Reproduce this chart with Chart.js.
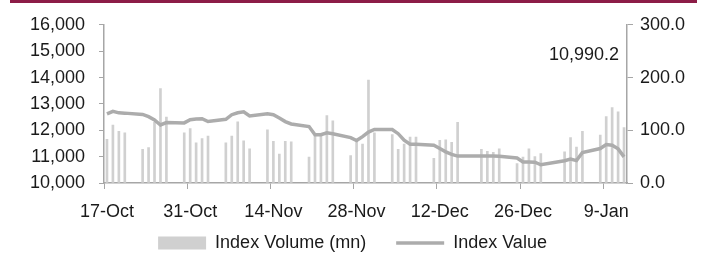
<!DOCTYPE html>
<html>
<head>
<meta charset="utf-8">
<script src="https://cdn.jsdelivr.net/npm/chart.js@4.4.0/dist/chart.umd.min.js"></script>
<style>
  html, body { margin: 0; padding: 0; background: #fff; }
  #wrap { width: 705px; height: 253px; position: relative; }
</style>
</head>
<body>
<div id="wrap"><canvas id="indexChart"></canvas></div>
<script>
// trading days Oct 17 .. Jan 12, one slot per calendar day (null = no session)
const startDate = "2022-10-17";
const dayCount = 88;
const tickEvery = 14;

// Index Volume (mn), right axis
const volume = [
    83, 110, 98, 95, null, null, 64, 67, 115, 179,
    125, null, null, 95, 103, 76, 84, 89, null, null,
    76, 89, 116, 80, 65, null, null, 101, 79, 55,
    79, 78, null, null, 49, 90, 89, 128, 118, null,
    null, 52, 81, 74, 195, 95, null, null, 92, 64,
    74, 87, 87, null, null, 47, 81, 82, 77, 115,
    null, null, null, 64, 60, 58, 65, null, null, 37,
    49, 65, 50, 56, null, null, null, 59, 86, 68,
    98, null, null, 91, 126, 143, 135, 105
];

// Index Value, left axis
const indexValue = [
    12620, 12720, 12660, 12650, null, null, 12600, 12515, 12390, 12200,
    12290, null, null, 12280, 12400, 12430, 12440, 12330, null, null,
    12415, 12590, 12665, 12700, 12540, null, null, 12625, 12590, 12465,
    12328, 12240, null, null, 12140, 11830, 11830, 11905, 11870, null,
    null, 11720, 11610, 11760, 11930, 12030, null, null, 12030, 11870,
    11620, 11470, 11470, null, null, 11430, 11307, 11180, 11083, 11020,
    null, null, null, 11020, 11020, 11020, 11010, null, null, 10950,
    10800, 10800, 10790, 10690, null, null, null, 10847, 10910, 10850,
    11158, null, null, 11307, 11457, 11430, 11295, 10990.2
];

const monthNames = ["Jan", "Feb", "Mar", "Apr", "May", "Jun", "Jul", "Aug", "Sep", "Oct", "Nov", "Dec"];

function buildDayLabels() {
    let labels = [];
    let d = new Date(startDate + "T00:00:00Z");
    for (let i = 0; i < dayCount; i++) {
        labels.push(d.getUTCDate() + "-" + monthNames[d.getUTCMonth()]);
        d.setUTCDate(d.getUTCDate() + 1);
    }
    return labels;
}
const dayLabels = buildDayLabels();

const axisGrey = "#a6a6a6";
const textColor = "#1a1a1a";
const fontFamily = "'Liberation Sans', Arial, sans-serif";

// maroon rule across the top of the figure
const topBand = {
    id: "topBand",
    beforeDraw(chart) {
        const ctx = chart.ctx;
        ctx.save();
        ctx.fillStyle = "#8c1d47";
        ctx.fillRect(10, 0, 687, 3);
        ctx.restore();
    }
};

// pull the legend up a bit, the wide item padding pushes it too low
const legendShift = {
    id: "legendShift",
    afterLayout(chart) {
        if (chart.legend) {
            chart.legend.top -= 15;
            chart.legend.height += 15;
        }
    }
};

// last value label in the top right of the plot
const lastValueLabel = {
    id: "lastValueLabel",
    afterDatasetsDraw(chart) {
        const ctx = chart.ctx;
        const x = chart.scales.x.getPixelForValue(dayCount - 1) - 5;
        const y = chart.chartArea.top + 30;
        const last = indexValue[dayCount - 1];
        ctx.save();
        ctx.font = "18px " + fontFamily;
        ctx.fillStyle = textColor;
        ctx.textAlign = "right";
        ctx.textBaseline = "middle";
        ctx.fillText(last.toLocaleString("en-US", { minimumFractionDigits: 1 }), x, y);
        ctx.restore();
    }
};

const ctx = document.getElementById("indexChart").getContext("2d");

new Chart(ctx, {
    type: "bar",
    data: {
        labels: dayLabels,
        datasets: [
            {
                type: "bar",
                label: "Index Volume (mn)",
                data: volume,
                yAxisID: "yRight",
                backgroundColor: "#d0d0d0",
                barThickness: 2,
                pointStyle: "rect",
                order: 1
            },
            {
                type: "line",
                label: "Index Value",
                data: indexValue,
                yAxisID: "yLeft",
                borderColor: "#acacac",
                borderWidth: 3.5,
                pointRadius: 0,
                pointStyle: "line",
                pointBorderWidth: 3.5,
                pointBorderColor: "#acacac",
                tension: 0,
                spanGaps: true,
                order: 0
            }
        ]
    },
    options: {
        responsive: true,
        maintainAspectRatio: false,
        animation: false,
        layout: { padding: { top: 23, left: 0, right: 0, bottom: 0 } },
        plugins: {
            tooltip: { enabled: false },
            legend: {
                position: "bottom",
                maxHeight: 34,
                labels: {
                    usePointStyle: true,
                    pointStyleWidth: 48,
                    boxHeight: 13,
                    padding: 30,
                    color: textColor,
                    font: { family: fontFamily, size: 18 },
                    sort: (a, b) => a.datasetIndex - b.datasetIndex
                }
            }
        },
        scales: {
            x: {
                type: "category",
                offset: true,
                grid: {
                    offset: true,
                    drawOnChartArea: false,
                    tickLength: 6,
                    tickColor: c => (c.index !== undefined && c.index % tickEvery === 0) ? axisGrey : "rgba(0,0,0,0)"
                },
                border: { color: axisGrey, width: 1.5 },
                ticks: {
                    autoSkip: false,
                    maxRotation: 0,
                    minRotation: 0,
                    padding: 12,
                    color: textColor,
                    font: { family: fontFamily, size: 18 },
                    callback: function (value, i) {
                        return i % tickEvery === 0 ? dayLabels[i] : "";
                    }
                },
                afterFit: s => { s.height = 36; }
            },
            yLeft: {
                position: "left",
                min: 10000,
                max: 16000,
                grid: { drawOnChartArea: false, tickLength: 5, tickColor: axisGrey },
                border: { color: axisGrey, width: 1.5 },
                ticks: {
                    stepSize: 1000,
                    padding: 14,
                    color: textColor,
                    font: { family: fontFamily, size: 18 },
                    callback: v => v.toLocaleString("en-US")
                },
                afterFit: s => { s.width = 104; }
            },
            yRight: {
                position: "right",
                min: 0,
                max: 300,
                grid: { drawOnChartArea: false, tickLength: 6, tickColor: axisGrey },
                border: { color: axisGrey, width: 1.5 },
                ticks: {
                    stepSize: 100,
                    padding: 7,
                    color: textColor,
                    font: { family: fontFamily, size: 18 },
                    callback: v => v.toFixed(1)
                },
                afterFit: s => { s.width = 78; }
            }
        }
    },
    plugins: [topBand, legendShift, lastValueLabel]
});
</script>
</body>
</html>
